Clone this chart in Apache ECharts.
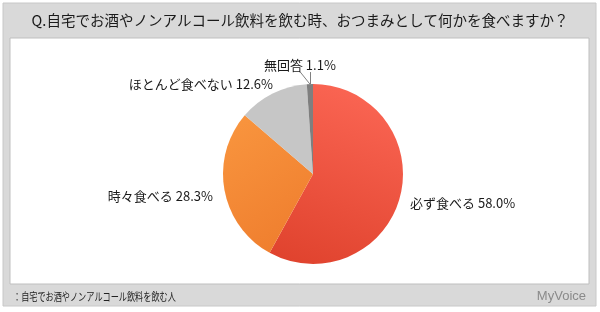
<!DOCTYPE html>
<html><head><meta charset="utf-8">
<script src="https://cdn.jsdelivr.net/npm/echarts@6/dist/echarts.min.js"></script>
<style>html,body{margin:0;padding:0;background:#fff}#c{width:600px;height:312px}</style>
</head><body><div id="c"></div>
<script>
const title = 'Q.自宅でお酒やノンアルコール飲料を飲む時、おつまみとして何かを食べますか？';
const footnote = '：自宅でお酒やノンアルコール飲料を飲む人';
const categories = ['必ず食べる', '時々食べる', 'ほとんど食べない', '無回答'];
const values = [58.0, 28.3, 12.6, 1.1];

const font = '"Noto Sans CJK JP", "Noto Sans", sans-serif';
const colors = [
  {type:'linear',x:0.7,y:0,x2:0.2,y2:1,colorStops:[{offset:0,color:'#fb6654'},{offset:1,color:'#e0432e'}]},
  {type:'linear',x:0,y:0,x2:1,y2:1,colorStops:[{offset:0,color:'#f9963f'},{offset:1,color:'#ee7b2c'}]},
  '#c6c6c6',
  '#7f7f7f'
];
// label anchor placement (layout only)
const labelPlace = [[410,203,'left'],[213,196,'right'],[273,84,'right'],null];
let leader = null;

const chart = echarts.init(document.getElementById('c'));
chart.setOption({
  animation:false,
  graphic:[
    {type:'rect',shape:{x:3,y:3,width:593,height:303},style:{fill:'#d9d9d9',stroke:'#c8c8c8',lineWidth:1},z:-10},
    {type:'rect',shape:{x:10,y:38,width:579,height:246},style:{fill:'#ffffff',stroke:'#bfbfbf',lineWidth:1},z:-9},
    {type:'text',x:300,y:20,style:{text:title,font:'14.5px '+font,fill:'#1a1a1a',align:'center',verticalAlign:'middle'}},
    {type:'text',x:13,y:297,scaleX:0.74,style:{text:footnote,font:'11px '+font,fill:'#222',align:'left',verticalAlign:'middle'}},
    {type:'text',x:586,y:296,style:{text:'MyVoice',font:'13px "Liberation Sans", sans-serif',fill:'#8a8a8a',align:'right',verticalAlign:'middle'}}
  ],
  series:[{
    type:'pie',
    center:[313,174],
    radius:[0,90],
    startAngle:90,
    clockwise:true,
    data:categories.map((n,i)=>({
      name:n,value:values[i],
      itemStyle:{color:colors[i]},
      labelLine:{show:i===3,length:12,length2:0,lineStyle:{color:'#808080',width:1}}
    })),
    itemStyle:{borderWidth:0},
    label:{
      show:true,position:'outside',
      formatter:p=>p.name+' '+p.value.toFixed(1)+'%',
      fontFamily:font,fontSize:13,color:'#1a1a1a'
    },
    labelLine:{length:12,length2:0},
    labelLayout:function(p){
      const o=labelPlace[p.dataIndex];
      if(!o){
        const pts=p.labelLinePoints;
        if(!pts) return;
        const a=pts[0];
        leader=[a[0],a[1],a[0],a[1]-12];
        return {x:a[0]-10,y:a[1]-19,align:'center',verticalAlign:'middle',hideOverlap:false};
      }
      return {x:o[0],y:o[1],align:o[2],verticalAlign:'middle',hideOverlap:false};
    }
  }]
});
if(leader){
  chart.setOption({graphic:[{id:'leader',type:'line',shape:{x1:Math.round(leader[0])+0.5,y1:leader[1],x2:Math.round(leader[2])+0.5,y2:leader[3]},style:{stroke:'#808080',lineWidth:1},z:10}]});
}
</script></body></html>
